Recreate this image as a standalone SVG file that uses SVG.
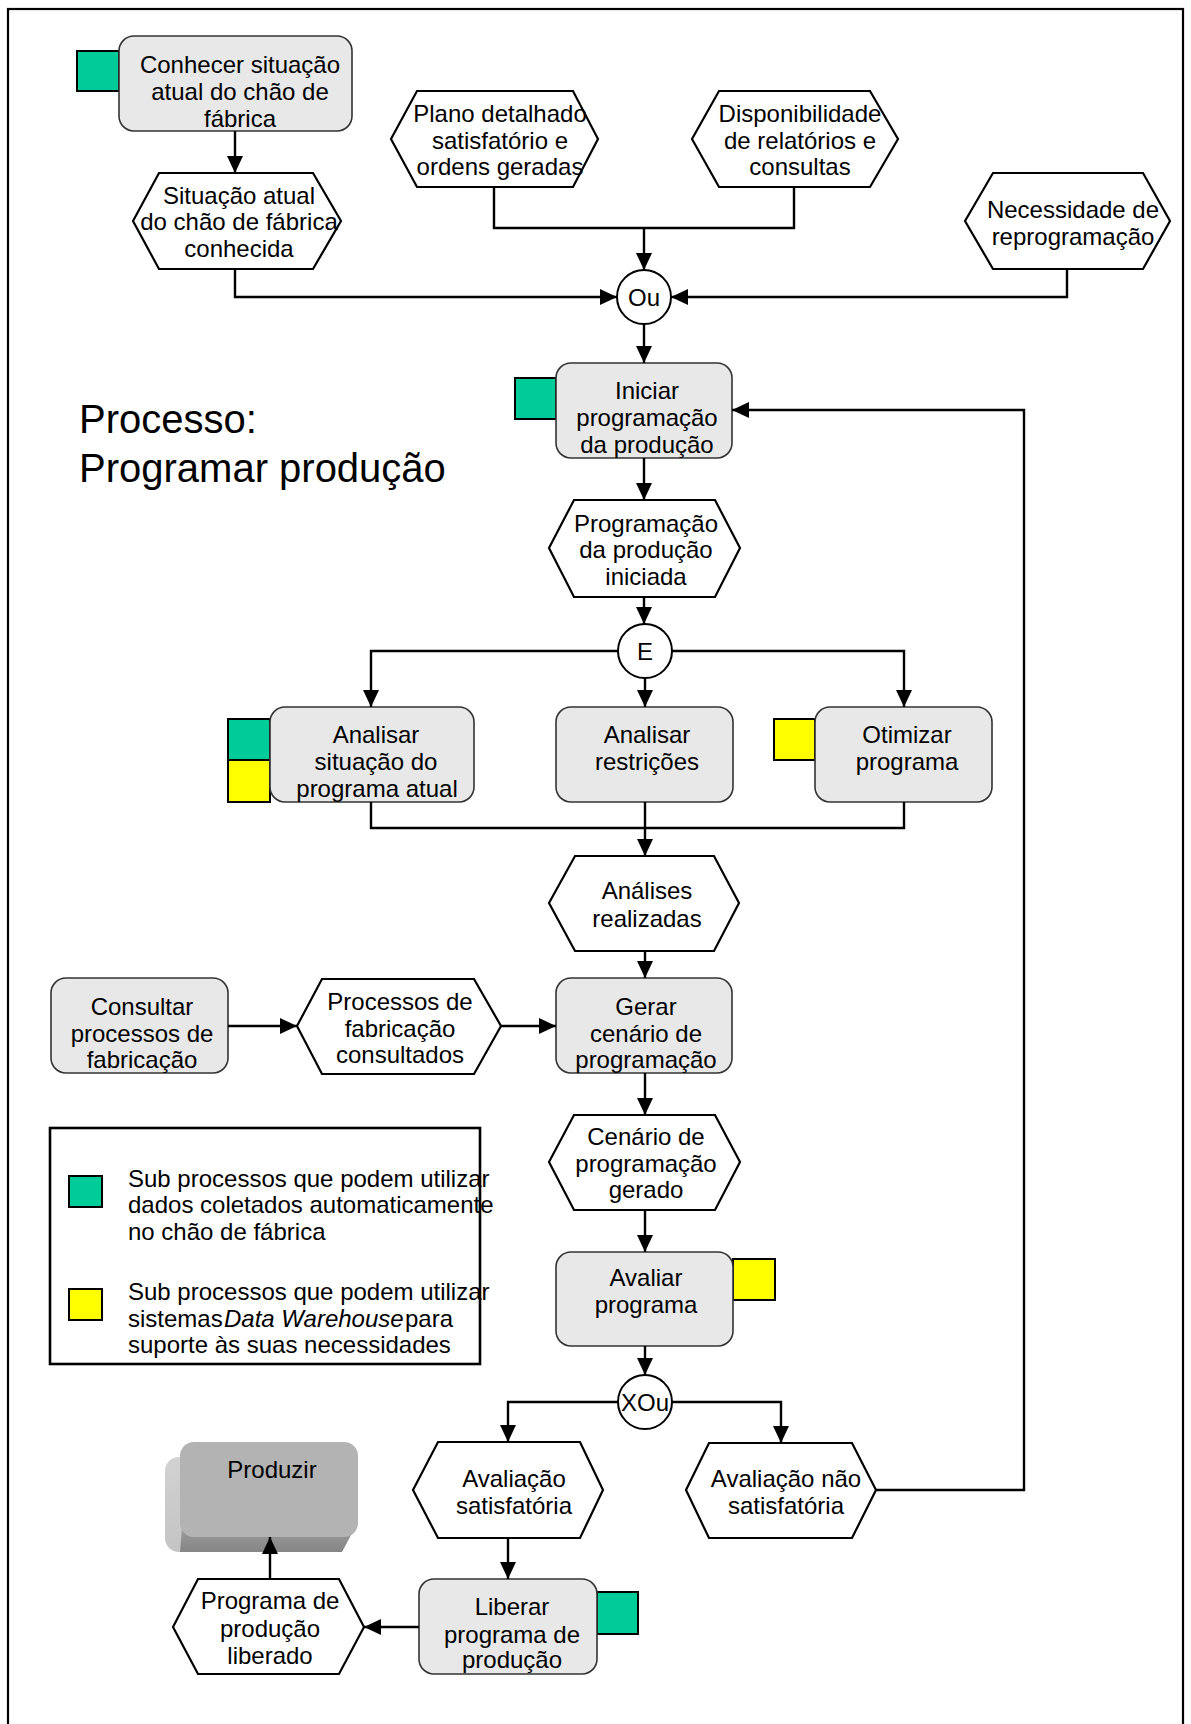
<svg xmlns="http://www.w3.org/2000/svg" width="1191" height="1724" viewBox="0 0 1191 1724">
  <style>
    text { font-family: "Liberation Sans", Arial, sans-serif; font-size: 24px; fill: #000; }
    .c { text-anchor: middle; }
    .func { fill: #e8e8e8; stroke: #333; stroke-width: 1.6; }
    .event { fill: #fff; stroke: #000; stroke-width: 2.2; stroke-linejoin: miter; }
    .op { fill: #fff; stroke: #000; stroke-width: 2; }
    .green { fill: #00cc99; stroke: #000; stroke-width: 2; }
    .yellow { fill: #ffff00; stroke: #000; stroke-width: 2; }
    .wire { fill: none; stroke: #000; stroke-width: 2.4; }
    .arrow { marker-end: url(#head); }
    .title { font-size: 40px; }
  </style>
  <defs>
    <marker id="head" markerUnits="userSpaceOnUse" markerWidth="18" markerHeight="18" refX="17" refY="8" orient="auto">
      <path d="M0,0 L17,8 L0,16 Z" fill="#000"/>
    </marker>
    <linearGradient id="bottomShade" x1="0" y1="0" x2="0" y2="1">
      <stop offset="0" stop-color="#a0a0a0"/>
      <stop offset="1" stop-color="#858585"/>
    </linearGradient>
    <linearGradient id="sideShade" x1="0" y1="0" x2="0" y2="1">
      <stop offset="0" stop-color="#d2d2d2"/>
      <stop offset="1" stop-color="#c4c4c4"/>
    </linearGradient>
  </defs>

  <rect width="1191" height="1724" fill="#fff"/>
  <!-- page frame -->
  <rect x="8" y="9" width="1175" height="1800" fill="none" stroke="#000" stroke-width="2.2"/>

  <!-- title -->
  <g id="title">
    <text class="title" x="79" y="433">Processo:</text>
    <text class="title" x="79" y="482">Programar produção</text>
  </g>

  <!-- functions and events -->
  <g id="conhecer">
    <rect class="green" x="77" y="51" width="42" height="40"/>
    <rect class="func" x="119" y="36" width="233" height="95" rx="15"/>
    <text class="c" x="240" y="73">Conhecer situação</text>
    <text class="c" x="240" y="100">atual do chão de</text>
    <text class="c" x="240" y="127">fábrica</text>
  </g>

  <g id="situacao-conhecida">
    <polygon class="event" points="133,221 159,173 313,173 341,221 313,269 159,269"/>
    <text class="c" x="239" y="204">Situação atual</text>
    <text class="c" x="239" y="230">do chão de fábrica</text>
    <text class="c" x="239" y="257">conhecida</text>
  </g>

  <g id="plano-detalhado">
    <polygon class="event" points="391,139 417,91 573,91 598,139 573,187 417,187"/>
    <text class="c" x="500" y="122">Plano detalhado</text>
    <text class="c" x="500" y="149">satisfatório e</text>
    <text class="c" x="500" y="175">ordens geradas</text>
  </g>

  <g id="disponibilidade">
    <polygon class="event" points="692,139 719,91 870,91 898,139 870,187 719,187"/>
    <text class="c" x="800" y="122">Disponibilidade</text>
    <text class="c" x="800" y="149">de relatórios e</text>
    <text class="c" x="800" y="175">consultas</text>
  </g>

  <g id="necessidade">
    <polygon class="event" points="965,221 993,173 1143,173 1170,221 1143,269 993,269"/>
    <text class="c" x="1073" y="218">Necessidade de</text>
    <text class="c" x="1073" y="245">reprogramação</text>
  </g>

  <g id="op-ou">
    <circle class="op" cx="644" cy="297" r="27"/>
    <text class="c" x="644" y="306">Ou</text>
  </g>

  <g id="iniciar">
    <rect class="green" x="515" y="378" width="41" height="41"/>
    <rect class="func" x="556" y="363" width="176" height="95" rx="15"/>
    <text class="c" x="647" y="399">Iniciar</text>
    <text class="c" x="647" y="426">programação</text>
    <text class="c" x="647" y="453">da produção</text>
  </g>

  <g id="programacao-iniciada">
    <polygon class="event" points="549,548 574,500 715,500 740,548 715,597 574,597"/>
    <text class="c" x="646" y="532">Programação</text>
    <text class="c" x="646" y="558">da produção</text>
    <text class="c" x="646" y="585">iniciada</text>
  </g>

  <g id="op-e">
    <circle class="op" cx="645" cy="651" r="27"/>
    <text class="c" x="645" y="660">E</text>
  </g>

  <g id="analisar-situacao">
    <rect class="green" x="228" y="719" width="42" height="41"/>
    <rect class="yellow" x="228" y="760" width="42" height="42"/>
    <rect class="func" x="270" y="707" width="204" height="95" rx="15"/>
    <text class="c" x="376" y="743">Analisar</text>
    <text class="c" x="376" y="770">situação do</text>
    <text class="c" x="377" y="797">programa atual</text>
  </g>

  <g id="analisar-restricoes">
    <rect class="func" x="556" y="707" width="177" height="95" rx="15"/>
    <text class="c" x="647" y="743">Analisar</text>
    <text class="c" x="647" y="770">restrições</text>
  </g>

  <g id="otimizar">
    <rect class="yellow" x="774" y="719" width="41" height="41"/>
    <rect class="func" x="815" y="707" width="177" height="95" rx="15"/>
    <text class="c" x="907" y="743">Otimizar</text>
    <text class="c" x="907" y="770">programa</text>
  </g>

  <g id="analises-realizadas">
    <polygon class="event" points="549,903 575,856 714,856 739,903 714,951 575,951"/>
    <text class="c" x="647" y="899">Análises</text>
    <text class="c" x="647" y="927">realizadas</text>
  </g>

  <g id="consultar">
    <rect class="func" x="51" y="978" width="177" height="95" rx="15"/>
    <text class="c" x="142" y="1015">Consultar</text>
    <text class="c" x="142" y="1042">processos de</text>
    <text class="c" x="142" y="1068">fabricação</text>
  </g>

  <g id="processos-consultados">
    <polygon class="event" points="297,1026 322,979 474,979 501,1026 474,1074 322,1074"/>
    <text class="c" x="400" y="1010">Processos de</text>
    <text class="c" x="400" y="1037">fabricação</text>
    <text class="c" x="400" y="1063">consultados</text>
  </g>

  <g id="gerar">
    <rect class="func" x="556" y="978" width="176" height="95" rx="15"/>
    <text class="c" x="646" y="1015">Gerar</text>
    <text class="c" x="646" y="1042">cenário de</text>
    <text class="c" x="646" y="1068">programação</text>
  </g>

  <g id="cenario-gerado">
    <polygon class="event" points="549,1162 574,1115 715,1115 740,1162 715,1210 574,1210"/>
    <text class="c" x="646" y="1145">Cenário de</text>
    <text class="c" x="646" y="1172">programação</text>
    <text class="c" x="646" y="1198">gerado</text>
  </g>

  <g id="avaliar">
    <rect class="yellow" x="733" y="1259" width="42" height="41"/>
    <rect class="func" x="556" y="1252" width="177" height="94" rx="15"/>
    <text class="c" x="646" y="1286">Avaliar</text>
    <text class="c" x="646" y="1313">programa</text>
  </g>

  <g id="op-xou">
    <circle class="op" cx="645" cy="1402" r="27"/>
    <text class="c" x="645" y="1411">XOu</text>
  </g>

  <g id="avaliacao-satisfatoria">
    <polygon class="event" points="413,1490 438,1442 580,1442 603,1490 580,1538 438,1538"/>
    <text class="c" x="514" y="1487">Avaliação</text>
    <text class="c" x="514" y="1514">satisfatória</text>
  </g>

  <g id="avaliacao-nao-satisfatoria">
    <polygon class="event" points="686,1490 709,1443 852,1443 876,1490 852,1538 709,1538"/>
    <text class="c" x="786" y="1487">Avaliação não</text>
    <text class="c" x="786" y="1514">satisfatória</text>
  </g>

  <g id="liberar">
    <rect class="green" x="597" y="1592" width="41" height="42"/>
    <rect class="func" x="419" y="1579" width="178" height="95" rx="15"/>
    <text class="c" x="512" y="1615">Liberar</text>
    <text class="c" x="512" y="1643">programa de</text>
    <text class="c" x="512" y="1668">produção</text>
  </g>

  <g id="programa-liberado">
    <polygon class="event" points="173,1627 198,1579 339,1579 364,1627 339,1674 198,1674"/>
    <text class="c" x="270" y="1609">Programa de</text>
    <text class="c" x="270" y="1637">produção</text>
    <text class="c" x="270" y="1664">liberado</text>
  </g>

  <!-- process interface: raised block -->
  <g id="produzir">
    <rect x="165" y="1457" width="178" height="95" rx="14" fill="url(#sideShade)"/>
    <path d="M182,1528 L358,1522 L342,1552 L180,1552 Z" fill="url(#bottomShade)"/>
    <rect x="180" y="1442" width="178" height="95" rx="14" fill="#b3b3b3"/>
    <text class="c" x="272" y="1478" fill="#1a1a1a">Produzir</text>
  </g>

  <!-- legend -->
  <g id="legend">
    <rect x="50" y="1128" width="430" height="236" fill="none" stroke="#000" stroke-width="2.6"/>
    <rect class="green" x="69" y="1176" width="33" height="31"/>
    <rect class="yellow" x="69" y="1289" width="33" height="31"/>
    <text x="128" y="1187">Sub processos que podem utilizar</text>
    <text x="128" y="1213">dados coletados automaticamente</text>
    <text x="128" y="1240">no chão de fábrica</text>
    <text x="128" y="1300">Sub processos que podem utilizar</text>
    <text y="1327"><tspan x="128">sistemas</tspan> <tspan x="224" font-style="italic">Data Warehouse</tspan> <tspan x="405">para</tspan></text>
    <text x="128" y="1353">suporte às suas necessidades</text>
  </g>

  <!-- connectors -->
  <g id="connectors">
    <path class="wire arrow" d="M235,131 L235,173"/>
    <path class="wire arrow" d="M235,269 L235,297 L617,297"/>
    <path class="wire" d="M494,187 L494,228 L794,228 L794,187"/>
    <path class="wire arrow" d="M644,228 L644,270"/>
    <path class="wire arrow" d="M1067,269 L1067,297 L671,297"/>
    <path class="wire arrow" d="M644,324 L644,363"/>
    <path class="wire arrow" d="M644,458 L644,500"/>
    <path class="wire arrow" d="M644,597 L644,624"/>
    <path class="wire arrow" d="M618,651 L371,651 L371,707"/>
    <path class="wire arrow" d="M645,678 L645,707"/>
    <path class="wire arrow" d="M672,651 L904,651 L904,707"/>
    <path class="wire" d="M371,802 L371,828 L904,828 L904,802"/>
    <path class="wire arrow" d="M645,802 L645,856"/>
    <path class="wire arrow" d="M645,951 L645,978"/>
    <path class="wire arrow" d="M228,1026 L297,1026"/>
    <path class="wire arrow" d="M501,1026 L556,1026"/>
    <path class="wire arrow" d="M645,1073 L645,1115"/>
    <path class="wire arrow" d="M645,1210 L645,1252"/>
    <path class="wire arrow" d="M645,1346 L645,1375"/>
    <path class="wire arrow" d="M618,1402 L508,1402 L508,1442"/>
    <path class="wire arrow" d="M672,1402 L781,1402 L781,1443"/>
    <path class="wire arrow" d="M876,1490 L1024,1490 L1024,410 L732,410"/>
    <path class="wire arrow" d="M508,1538 L508,1579"/>
    <path class="wire arrow" d="M419,1627 L364,1627"/>
    <path class="wire arrow" d="M270,1579 L270,1537"/>
  </g>
</svg>
